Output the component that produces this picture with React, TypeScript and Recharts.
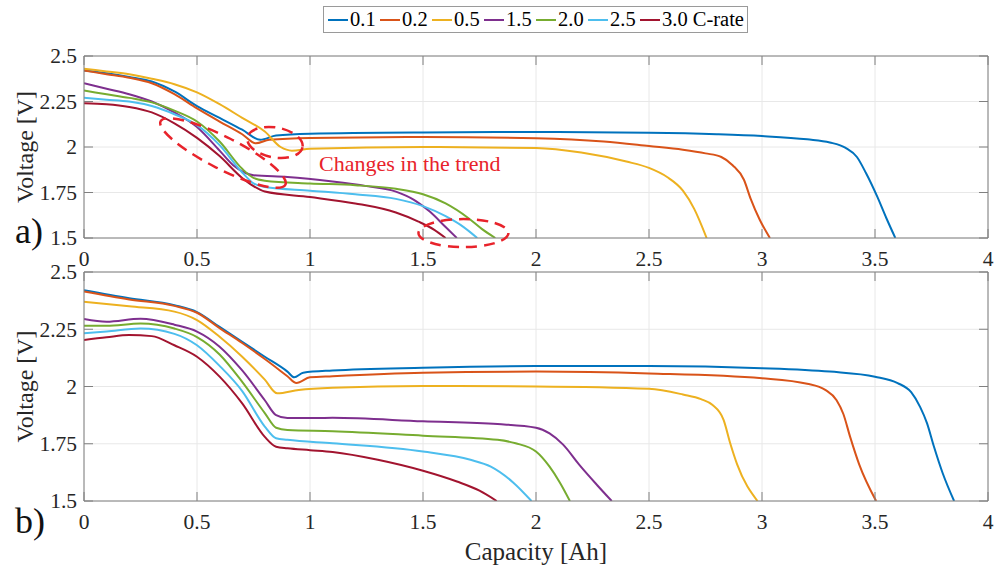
import React from "react";
import { LineChart, Line, XAxis, YAxis, CartesianGrid, ReferenceDot } from "recharts";

type Pt = [number, number];

const FONT = '"Liberation Serif", "Times New Roman", serif';
const AXIS_GRAY = "#808080";
const TEXT_DARK = "#262626";
const ANNOT_RED = "#e8232b";

const C_RATES = ["0.1", "0.2", "0.5", "1.5", "2.0", "2.5", "3.0"];
const COLORS = ["#0072BD", "#D95319", "#EDB120", "#7E2F8E", "#77AC30", "#4DBEEE", "#A2142F"];
const X_TICKS = [0, 0.5, 1, 1.5, 2, 2.5, 3, 3.5, 4];
const Y_TICKS = [1.5, 1.75, 2, 2.25, 2.5];

// panel a) — [capacity Ah, voltage V]
const a01: Pt[] = [[0, 2.42], [0.1, 2.405], [0.2, 2.385], [0.3, 2.36], [0.4, 2.305], [0.5, 2.225], [0.6, 2.16], [0.7, 2.095], [0.78, 2.04], [0.85, 2.063], [1.0, 2.073], [1.5, 2.08], [2.0, 2.082], [2.5, 2.078], [2.8, 2.07], [3.0, 2.06], [3.2, 2.042], [3.3, 2.025], [3.37, 1.995], [3.42, 1.945], [3.46, 1.857], [3.51, 1.727], [3.55, 1.61], [3.59, 1.5]];
const a02: Pt[] = [[0, 2.42], [0.1, 2.4], [0.2, 2.38], [0.3, 2.35], [0.4, 2.29], [0.5, 2.212], [0.6, 2.14], [0.7, 2.07], [0.76, 2.02], [0.82, 2.04], [1.0, 2.05], [1.5, 2.055], [2.0, 2.048], [2.3, 2.03], [2.5, 2.005], [2.65, 1.985], [2.75, 1.965], [2.82, 1.945], [2.87, 1.9], [2.92, 1.82], [2.95, 1.715], [2.99, 1.6], [3.035, 1.5]];
const a05: Pt[] = [[0, 2.43], [0.1, 2.415], [0.2, 2.4], [0.3, 2.375], [0.4, 2.345], [0.5, 2.3], [0.6, 2.235], [0.7, 2.16], [0.8, 2.085], [0.87, 2.0], [0.92, 1.98], [1.0, 1.99], [1.5, 2.0], [2.0, 1.995], [2.2, 1.97], [2.4, 1.92], [2.5, 1.885], [2.58, 1.835], [2.65, 1.76], [2.7, 1.66], [2.755, 1.5]];
const a15: Pt[] = [[0, 2.35], [0.1, 2.32], [0.2, 2.29], [0.3, 2.25], [0.4, 2.19], [0.5, 2.11], [0.6, 1.98], [0.66, 1.9], [0.71, 1.86], [0.75, 1.845], [0.9, 1.835], [1.1, 1.81], [1.25, 1.785], [1.38, 1.755], [1.46, 1.71], [1.53, 1.645], [1.6, 1.56], [1.65, 1.5]];
const a20: Pt[] = [[0, 2.31], [0.1, 2.29], [0.2, 2.27], [0.3, 2.245], [0.4, 2.2], [0.5, 2.14], [0.6, 2.03], [0.7, 1.88], [0.75, 1.83], [0.8, 1.815], [1.0, 1.8], [1.2, 1.79], [1.38, 1.77], [1.5, 1.74], [1.6, 1.69], [1.7, 1.61], [1.76, 1.55], [1.82, 1.5]];
const a25: Pt[] = [[0, 2.27], [0.1, 2.26], [0.2, 2.25], [0.3, 2.225], [0.4, 2.18], [0.5, 2.12], [0.6, 2.01], [0.7, 1.86], [0.75, 1.8], [0.8, 1.78], [1.0, 1.76], [1.2, 1.74], [1.38, 1.715], [1.5, 1.675], [1.6, 1.62], [1.68, 1.56], [1.74, 1.5]];
const a30: Pt[] = [[0, 2.24], [0.1, 2.235], [0.2, 2.22], [0.3, 2.19], [0.4, 2.13], [0.5, 2.05], [0.6, 1.95], [0.7, 1.83], [0.75, 1.785], [0.8, 1.755], [1.0, 1.725], [1.2, 1.69], [1.38, 1.64], [1.48, 1.59], [1.55, 1.545], [1.6, 1.5]];

// panel b)
const b01: Pt[] = [[0, 2.42], [0.2, 2.385], [0.4, 2.355], [0.5, 2.325], [0.6, 2.26], [0.7, 2.195], [0.8, 2.13], [0.9, 2.065], [0.93, 2.04], [0.97, 2.06], [1.1, 2.07], [1.5, 2.082], [2.0, 2.089], [2.5, 2.089], [3.0, 2.08], [3.3, 2.065], [3.5, 2.043], [3.6, 2.015], [3.66, 1.975], [3.7, 1.91], [3.73, 1.84], [3.76, 1.74], [3.8, 1.62], [3.85, 1.5]];
const b02: Pt[] = [[0, 2.415], [0.2, 2.38], [0.4, 2.352], [0.5, 2.322], [0.6, 2.255], [0.7, 2.19], [0.8, 2.12], [0.9, 2.045], [0.94, 2.015], [1.0, 2.04], [1.1, 2.045], [1.5, 2.06], [2.0, 2.065], [2.5, 2.057], [3.0, 2.036], [3.2, 2.012], [3.28, 1.985], [3.33, 1.94], [3.36, 1.88], [3.39, 1.78], [3.43, 1.66], [3.505, 1.5]];
const b05: Pt[] = [[0, 2.37], [0.2, 2.35], [0.4, 2.327], [0.5, 2.29], [0.6, 2.217], [0.7, 2.13], [0.8, 2.03], [0.855, 1.97], [0.95, 1.985], [1.1, 1.995], [1.5, 2.002], [2.0, 2.0], [2.5, 1.99], [2.65, 1.965], [2.73, 1.945], [2.78, 1.92], [2.83, 1.854], [2.86, 1.75], [2.89, 1.66], [2.98, 1.5]];
const b15: Pt[] = [[0, 2.295], [0.1, 2.283], [0.25, 2.296], [0.4, 2.27], [0.5, 2.24], [0.6, 2.174], [0.7, 2.07], [0.8, 1.94], [0.85, 1.875], [0.9, 1.862], [1.1, 1.863], [1.5, 1.848], [1.83, 1.836], [2.0, 1.82], [2.06, 1.795], [2.12, 1.746], [2.19, 1.66], [2.27, 1.57], [2.335, 1.5]];
const b20: Pt[] = [[0, 2.265], [0.1, 2.265], [0.25, 2.275], [0.4, 2.253], [0.5, 2.216], [0.6, 2.14], [0.7, 2.02], [0.8, 1.884], [0.85, 1.82], [0.9, 1.81], [1.1, 1.805], [1.5, 1.785], [1.83, 1.767], [1.91, 1.752], [2.0, 1.716], [2.06, 1.65], [2.106, 1.58], [2.15, 1.5]];
const b25: Pt[] = [[0, 2.232], [0.1, 2.24], [0.25, 2.253], [0.4, 2.23], [0.5, 2.18], [0.6, 2.09], [0.7, 1.98], [0.8, 1.825], [0.85, 1.774], [0.9, 1.767], [1.1, 1.752], [1.5, 1.716], [1.71, 1.68], [1.8, 1.65], [1.9, 1.58], [1.98, 1.5]];
const b30: Pt[] = [[0, 2.203], [0.1, 2.215], [0.2, 2.225], [0.3, 2.22], [0.4, 2.18], [0.5, 2.13], [0.6, 2.043], [0.7, 1.926], [0.8, 1.78], [0.85, 1.737], [0.9, 1.73], [1.0, 1.722], [1.1, 1.714], [1.3, 1.68], [1.5, 1.632], [1.65, 1.585], [1.75, 1.545], [1.826, 1.5]];

const SERIES_A = [a01, a02, a05, a15, a20, a25, a30];
const SERIES_B = [b01, b02, b05, b15, b20, b25, b30];

const toRows = (pts: Pt[]) => pts.map(([c, v]) => ({ c, v }));

const serif = { fontFamily: FONT };

const XTick = (p: any) => (
  <text x={p.x} y={p.y} dy="0.71em" textAnchor="middle" fill={TEXT_DARK} fontSize={21.5} style={serif}>
    {p.payload.value}
  </text>
);

const YTick = (p: any) => (
  <text x={p.x} y={p.y} dy="0.34em" textAnchor="end" fill={TEXT_DARK} fontSize={21.5} style={serif}>
    {p.payload.value}
  </text>
);

const YTitle = (p: any) => {
  const { x, y, height } = p.viewBox;
  const cx = x + 25;
  const cy = y + height / 2;
  return (
    <text
      x={cx}
      y={cy}
      transform={`rotate(-90 ${cx} ${cy})`}
      textAnchor="middle"
      dominantBaseline="central"
      fill={TEXT_DARK}
      fontSize={24}
      style={serif}
    >
      Voltage [V]
    </text>
  );
};

const XTitle = (p: any) => {
  const { x, y, width, height } = p.viewBox;
  return (
    <text x={x + width / 2} y={y + height - 1.5} textAnchor="middle" fill={TEXT_DARK} fontSize={25} style={serif}>
      Capacity [Ah]
    </text>
  );
};

const ellipse = (rx: number, ry: number, angle: number) => (props: any) => (
  <ellipse
    cx={props.cx}
    cy={props.cy}
    rx={rx}
    ry={ry}
    transform={`rotate(${angle} ${props.cx} ${props.cy})`}
    fill="none"
    stroke={ANNOT_RED}
    strokeWidth={2.5}
    strokeDasharray="11 7"
  />
);

const noteText = (props: any) => (
  <text x={props.cx} y={props.cy} dominantBaseline="central" fill={ANNOT_RED} fontSize={22} style={serif}>
    Changes in the trend
  </text>
);

function Panel({
  series,
  height,
  margin,
  xLabel,
  children,
}: {
  series: Pt[][];
  height: number;
  margin: { top: number; right: number; bottom: number; left: number };
  xLabel?: boolean;
  children?: React.ReactNode;
}) {
  return (
    <LineChart width={995} height={height} margin={margin}>
      <CartesianGrid stroke="#e8e8e8" strokeWidth={1} />
      <XAxis
        type="number"
        dataKey="c"
        domain={[0, 4]}
        ticks={X_TICKS}
        interval={0}
        allowDataOverflow
        stroke={AXIS_GRAY}
        tickSize={-9}
        tickMargin={22}
        tick={XTick}
        height={xLabel ? 60 : 40}
        label={xLabel ? XTitle : undefined}
      />
      <XAxis
        xAxisId="top"
        orientation="top"
        type="number"
        dataKey="c"
        domain={[0, 4]}
        ticks={X_TICKS}
        interval={0}
        allowDataOverflow
        stroke={AXIS_GRAY}
        tickSize={-9}
        tickFormatter={() => ""}
        height={1}
      />
      <YAxis
        type="number"
        domain={[1.5, 2.5]}
        ticks={Y_TICKS}
        interval={0}
        allowDataOverflow
        stroke={AXIS_GRAY}
        tickSize={-9}
        tickMargin={16}
        tick={YTick}
        width={84}
        label={YTitle}
      />
      <YAxis
        yAxisId="right"
        orientation="right"
        type="number"
        domain={[1.5, 2.5]}
        ticks={Y_TICKS}
        interval={0}
        allowDataOverflow
        stroke={AXIS_GRAY}
        tickSize={-9}
        tickFormatter={() => ""}
        width={1}
      />
      {series.map((pts, i) => (
        <Line
          key={C_RATES[i]}
          data={toRows(pts)}
          dataKey="v"
          name={C_RATES[i]}
          type="monotone"
          stroke={COLORS[i]}
          strokeWidth={2}
          dot={false}
          activeDot={false}
          isAnimationActive={false}
        />
      ))}
      {children}
    </LineChart>
  );
}

function LegendBox() {
  return (
    <div
      style={{
        position: "absolute",
        left: 323,
        top: 6,
        width: 425,
        height: 27,
        border: "1px solid #9a9a9a",
        display: "flex",
        alignItems: "center",
        paddingLeft: 4,
        boxSizing: "border-box",
        fontFamily: FONT,
        fontSize: 20.5,
        color: "#000",
        whiteSpace: "nowrap",
      }}
    >
      {C_RATES.map((r, i) => (
        <div key={r} style={{ display: "flex", alignItems: "center", width: i === C_RATES.length - 1 ? "auto" : 52 }}>
          <span style={{ display: "inline-block", width: 20, height: 2, background: COLORS[i], marginRight: 2 }} />
          <span>{i === C_RATES.length - 1 ? `${r} C-rate` : r}</span>
        </div>
      ))}
    </div>
  );
}

export default function App() {
  const panelTag = { position: "absolute" as const, left: 15, fontFamily: FONT, fontSize: 36, lineHeight: 1, color: "#111" };
  return (
    <div
      style={{
        position: "absolute",
        left: 0,
        top: 0,
        width: 995,
        height: 565,
        background: "#fff",
        overflow: "hidden",
        fontFamily: FONT,
      }}
    >
      <div style={{ position: "absolute", left: 0, top: 0 }}>
        <Panel series={SERIES_A} height={290} margin={{ top: 55, right: 6, bottom: 12, left: 0 }}>
          <ReferenceDot x={0.615} y={1.967} r={0} ifOverflow="visible" shape={ellipse(70, 16, 27)} />
          <ReferenceDot x={0.845} y={2.025} r={0} ifOverflow="visible" shape={ellipse(28, 15, 10)} />
          <ReferenceDot x={1.679} y={1.527} r={0} ifOverflow="visible" shape={ellipse(45, 14, 0)} />
          <ReferenceDot x={1.04} y={1.91} r={0} ifOverflow="visible" shape={noteText} />
        </Panel>
      </div>
      <div style={{ position: "absolute", left: 0, top: 240 }}>
        <Panel series={SERIES_B} height={325} margin={{ top: 31, right: 6, bottom: 4, left: 0 }} xLabel />
      </div>
      <div style={{ ...panelTag, top: 213 }}>a)</div>
      <div style={{ ...panelTag, top: 503 }}>b)</div>
      <LegendBox />
    </div>
  );
}
